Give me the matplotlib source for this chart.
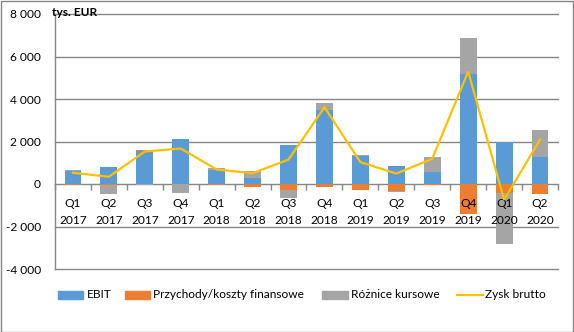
import numpy as np
import matplotlib
matplotlib.use("Agg")
import matplotlib.pyplot as plt
from matplotlib.patches import Rectangle
from matplotlib.lines import Line2D

plt.rcParams['font.family'] = ['Lato', 'DejaVu Sans']

quarters = ["Q1", "Q2", "Q3", "Q4", "Q1", "Q2", "Q3", "Q4",
            "Q1", "Q2", "Q3", "Q4", "Q1", "Q2"]
years = ["2017"] * 4 + ["2018"] * 4 + ["2019"] * 4 + ["2020"] * 2

# values in thousands of EUR
ebit = [600, 820, 1560, 2100, 640, 270, 1850, 3460, 1300, 840, 560, 5200, 1970, 1260]
fin = [-50, -40, 40, 30, -50, -150, -300, -150, -270, -340, -50, -1390, -440, -450]
fx = [50, -440, -70, -420, 100, 340, -360, 330, 50, -50, 720, 1650, -2380, 1260]
zysk = [530, 340, 1530, 1670, 680, 510, 1150, 3610, 1030, 490, 1190, 5290, -740, 2090]

series_names = ["EBIT", "Przychody/koszty finansowe", "Różnice kursowe", "Zysk brutto"]
labels = [f"{q}\n{y}" for q, y in zip(quarters, years)]

c_ebit = "#5B9BD5"
c_fin = "#ED7D31"
c_fx = "#A5A5A5"
c_zysk = "#FFC000"
grid_c = "#868686"
text_c = "#000000"
fs = 8.6

W, H = 574, 332
fig = plt.figure(figsize=(W / 100, H / 100), dpi=100)
ax = fig.add_axes([55 / W, 1 - 269 / H, (558 - 55) / W, (269 - 14) / H])

x = np.arange(len(labels))
pos_base = np.zeros(len(x))
neg_base = np.zeros(len(x))
width = 0.47
for vals, col in [(ebit, c_ebit), (fin, c_fin), (fx, c_fx)]:
    v = np.array(vals, dtype=float)
    bottoms = np.where(v >= 0, pos_base, neg_base)
    ax.bar(x, v, width, bottom=bottoms, color=col, zorder=2)
    pos_base = pos_base + np.where(v >= 0, v, 0)
    neg_base = neg_base + np.where(v < 0, v, 0)

ax.plot(x, zysk, color=c_zysk, lw=1.6, zorder=4, solid_joinstyle="miter")

ax.set_xlim(-0.5, len(x) - 0.5)
ax.set_ylim(-4000, 8000)
yt = np.arange(-4000, 8001, 2000)
ax.set_yticks(yt)
ax.set_yticklabels([f"{v:,}".replace(",", " ") for v in yt], fontsize=fs, color=text_c)
ax.tick_params(axis="y", length=0, pad=10)
for v in yt:
    if v != 0:
        ax.axhline(v, color=grid_c, lw=1.0, zorder=1, clip_on=False)

# category axis drawn through zero, labels on top of the bars
ax.spines["bottom"].set_position(("data", 0))
ax.spines["bottom"].set_color(grid_c)
ax.spines["bottom"].set_linewidth(1.0)
ax.spines["bottom"].set_zorder(1.5)
ax.spines["top"].set_visible(False)
ax.spines["right"].set_visible(False)
ax.spines["left"].set_color(grid_c)
ax.spines["left"].set_linewidth(1.0)
ax.xaxis.set_zorder(3)
ax.set_xticks(x)
ax.set_xticklabels(labels, fontsize=fs, color=text_c, linespacing=1.65)
ax.tick_params(axis="x", which="major", length=0, pad=10)
ax.set_xticks(np.arange(-0.5, len(x), 1.0), minor=True)
ax.tick_params(axis="x", which="minor", length=4, width=1.0, color=grid_c, direction="out")

fig.text(52 / W, 1 - 12 / H, "tys. EUR", fontsize=fs, fontweight="bold",
         ha="left", va="center", color=text_c)

# legend row
ly = 295
leg_items = [
    ("patch", c_ebit, 58, 83, 87),
    ("patch", c_fin, 125, 150, 153),
    ("patch", c_fx, 322, 348, 351),
    ("line", c_zysk, 457, 483, 485),
]
for (kind, col, x0, x1, tx), name in zip(leg_items, series_names):
    if kind == "patch":
        fig.patches.append(Rectangle((x0 / W, 1 - (ly + 4) / H), (x1 - x0) / W, 8 / H,
                                     transform=fig.transFigure, color=col))
    else:
        fig.lines.append(Line2D([x0 / W, x1 / W], [1 - ly / H, 1 - ly / H],
                                transform=fig.transFigure, color=col, lw=1.6))
    fig.text(tx / W, 1 - ly / H, name, fontsize=fs, ha="left", va="center", color=text_c)

fig.patches.append(Rectangle((0.5 / W, 0.5 / H), 1 - 1.5 / W, 1 - 1.5 / H,
                             transform=fig.transFigure, fill=False,
                             edgecolor=grid_c, lw=1.0))

fig.savefig("out.png", dpi=100)
